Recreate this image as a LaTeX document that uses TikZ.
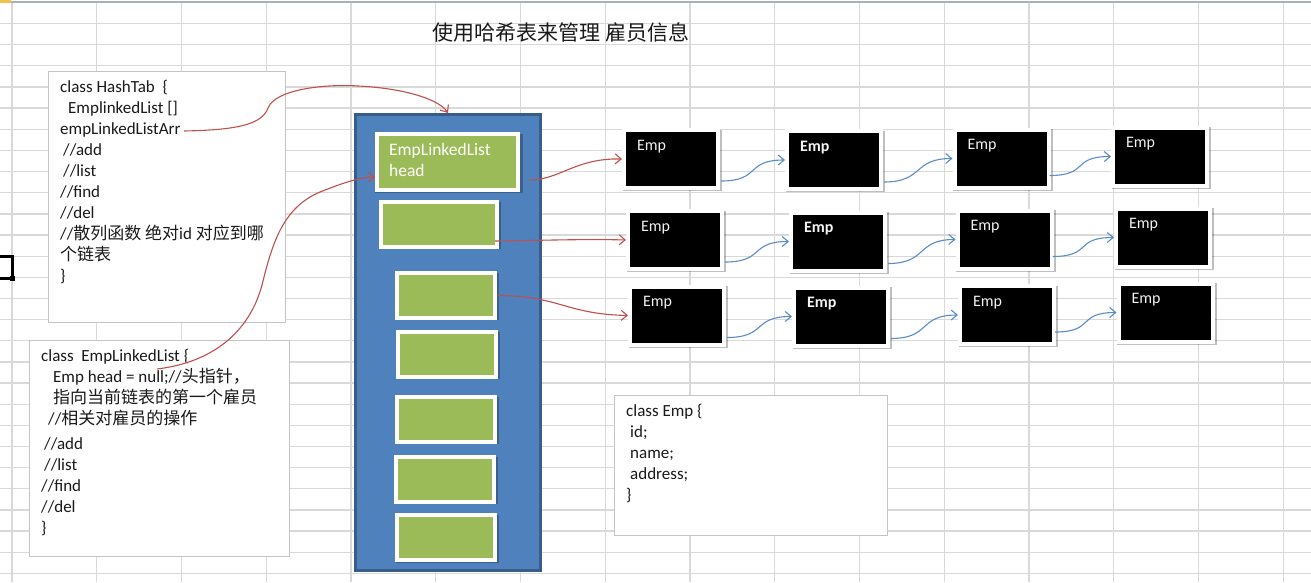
\documentclass[tikz,border=0pt]{standalone}
\usepackage{fontspec}
\setmainfont{Carlito}
\newfontfamily\cjk{Noto Sans CJK SC}
\usetikzlibrary{arrows.meta,shadows,calc}
\definecolor{gridc}{HTML}{D9D9D9}
\definecolor{hdrc}{HTML}{A9B0BA}
\definecolor{bluefill}{HTML}{4F81BD}
\definecolor{blueedge}{HTML}{385D8A}
\definecolor{greenfill}{HTML}{9BBB59}
\definecolor{redarrow}{HTML}{C0504D}
\definecolor{bluearrow}{HTML}{5B8CC8}
\definecolor{boxedge}{HTML}{C4C4C4}
\definecolor{txt}{HTML}{1A1A1A}
\definecolor{selc}{HTML}{F2C14E}
\begin{document}
\begin{tikzpicture}[x=1pt,y=-1pt,
  gridline/.style={draw=gridc, line width=1.3pt},
  codebox/.style={draw=boxedge, fill=white, line width=1pt, anchor=north west, inner sep=0pt},
  codetext/.style={font=\fontsize{17}{21}\selectfont, align=left, inner sep=0pt, anchor=north west, text=txt},
  bucketbox/.style={draw=blueedge, fill=bluefill, line width=3pt, inner sep=0pt},
  slot/.style={draw=white, fill=greenfill, line width=4pt, inner sep=0pt,
    drop shadow={shadow xshift=1.3pt, shadow yshift=-1.3pt, shadow scale=1.05, opacity=0.25, fill=black}},
  emp/.style={fill=black, draw=white, line width=4pt, text width=68pt, align=left,
    inner xsep=13pt, inner ysep=8pt, text height=12pt, text depth=30pt,
    font=\fontsize{16}{18}\selectfont, text=white!95!black,
    drop shadow={shadow xshift=1.3pt, shadow yshift=-1.3pt, shadow scale=1.06, opacity=0.25, fill=black}},
  redarr/.style={draw=redarrow, line width=1.1pt, -{Straight Barb[length=6pt,width=10pt]}},
  bluearr/.style={draw=bluearrow, line width=1.1pt, -{Straight Barb[length=6pt,width=10pt]}}
]
\useasboundingbox (0,0) rectangle (1311,582);
\fill[white] (0,0) rectangle (1311,582);
% spreadsheet grid
\foreach \k in {0,...,15} \draw[gridline] ({12+84.75*\k},3) -- ({12+84.75*\k},582);
\foreach \k in {0,...,26} \draw[gridline] (0,{23.5+21.15*\k}) -- (1311,{23.5+21.15*\k});
\draw[hdrc, line width=2.5pt] (0,1.8) -- (1311,1.8);
\fill[selc] (0,0) rectangle (11,3);
% left selection fragment
\draw[black, line width=3pt] (0,256) -- (12,256) -- (12,278) -- (0,278);
\fill[black] (9.5,275.5) rectangle (15,281);

% title
\node[font=\cjk\fontsize{21}{24}\selectfont, text=txt] (title) at (561,32) {使用哈希表来管理 雇员信息};

% class HashTab
\node[codebox, minimum width=237pt, minimum height=251pt] (hashbox) at (48,71) {};
\node[codetext] (hashtxt) at (60,80) {class HashTab\ \ \{\\
\hspace*{8pt}EmplinkedList []\\
empLinkedListArr\\
\hspace*{3pt}//add\\
\hspace*{3pt}//list\\
//find\\
//del\\
//{\cjk 散列函数 绝对}id {\cjk 对应到哪}\\
{\cjk 个链表}\\
\}};

% class EmpLinkedList
\node[codebox, minimum width=260pt, minimum height=216pt] (elbox) at (29,340) {};
\node[codetext] (eltxt) at (41,349) {class\ \ EmpLinkedList \{\\
\hspace*{12pt}Emp head = null;//{\cjk 头指针，}\\
\hspace*{12pt}{\cjk 指向当前链表的第一个雇员}\\
\hspace*{7pt}//{\cjk 相关对雇员的操作}\\[4pt]
\hspace*{3pt}//add\\
\hspace*{3pt}//list\\
//find\\
//del\\
\}};

% class Emp
\node[codebox, minimum width=273pt, minimum height=140pt] (empbox) at (614,395) {};
\node[codetext] (emptxt) at (626,404) {class Emp \{\\
\hspace*{4pt}id;\\
\hspace*{4pt}name;\\
\hspace*{4pt}address;\\
\}};

% hash table array
\node[bucketbox, minimum width=185pt, minimum height=456pt] (bucket) at (448,342.5) {};
\node[slot, minimum width=141pt, minimum height=56pt] (s1) at (447.5,162) {};
\node[slot, minimum width=116pt, minimum height=45pt] (s2) at (439,224.5) {};
\node[slot, minimum width=98pt, minimum height=45pt] (s3) at (446,295.5) {};
\node[slot, minimum width=98pt, minimum height=45pt] (s4) at (447,354.5) {};
\node[slot, minimum width=98pt, minimum height=45pt] (s5) at (446,419.5) {};
\node[slot, minimum width=98pt, minimum height=45pt] (s6) at (445,479.5) {};
\node[slot, minimum width=98pt, minimum height=45pt] (s7) at (446,537.5) {};
\node[font=\fontsize{17.5}{21}\selectfont, text=white, align=left, inner sep=0pt, anchor=north west] (headtxt) at (389,143) {EmpLinkedList\\head};

% Emp nodes
\node[emp] (e11) at (671,159) {Emp};
\node[emp] (e12) at (834,160) {\bfseries Emp};
\node[emp] (e13) at (1001.5,158.5) {Emp};
\node[emp] (e14) at (1160,156.5) {Emp};
\node[emp] (e21) at (675,240) {Emp};
\node[emp] (e22) at (838,241.5) {\bfseries Emp};
\node[emp] (e23) at (1004.5,239.5) {Emp};
\node[emp] (e24) at (1163,237.5) {Emp};
\node[emp] (e31) at (677,315.5) {Emp};
\node[emp] (e32) at (841,316.5) {\bfseries Emp};
\node[emp] (e33) at (1007,315) {Emp};
\node[emp] (e34) at (1165.5,312.5) {Emp};

% free ends of connectors
\coordinate (arrend) at (184,131);
\coordinate (headptr) at (157,369);
\coordinate (headin) at ($(s1.west)+(0,15)$);
\coordinate (r3s) at ($(s1.east)+(9,18)$);
\coordinate (r4s) at ($(s2.east)+(-4,16.5)$);
\coordinate (r5s) at ($(s3.east)+(1,0)$);

% red connectors
\draw[redarr] (arrend) .. controls (235,130) and (262,125) .. (268,108)
  .. controls (276,88) and (330,84) .. (358,86)
  .. controls (400,88) and (438,98) .. (bucket.north);
\draw[redarr] (headptr) .. controls (215,362) and (250,330) .. (262,285)
  .. controls (272,245) and (282,208) .. (320,192)
  .. controls (340,184) and (360,177) .. (headin);
\draw[redarr] (r3s) .. controls (560,180) and (575,158) .. (e11.west);
\draw[redarr] (r4s) .. controls (560,240) and (590,239) .. (e21.west);
\draw[redarr] (r5s) .. controls (560,296) and (565,314) .. (e31.west);

% blue connectors
\draw[bluearr] ($(e11.south east)+(1,-9)$) .. controls +(40,0) and +(-40,0) .. (e12.west);
\draw[bluearr] ($(e12.south east)+(1,-9)$) .. controls +(40,0) and +(-40,0) .. (e13.west);
\draw[bluearr] ($(e13.south east)+(-1,-14)$) .. controls +(40,0) and +(-40,0) .. (e14.west);
\draw[bluearr] ($(e21.south east)+(1,-9)$) .. controls +(40,0) and +(-40,0) .. (e22.west);
\draw[bluearr] ($(e22.south east)+(1,-9)$) .. controls +(40,0) and +(-40,0) .. (e23.west);
\draw[bluearr] ($(e23.south east)+(-1,-14)$) .. controls +(40,0) and +(-40,0) .. (e24.west);
\draw[bluearr] ($(e31.south east)+(1,-9)$) .. controls +(40,0) and +(-40,0) .. (e32.west);
\draw[bluearr] ($(e32.south east)+(1,-9)$) .. controls +(40,0) and +(-40,0) .. (e33.west);
\draw[bluearr] ($(e33.south east)+(-1,-14)$) .. controls +(40,0) and +(-40,0) .. (e34.west);
\end{tikzpicture}
\end{document}
